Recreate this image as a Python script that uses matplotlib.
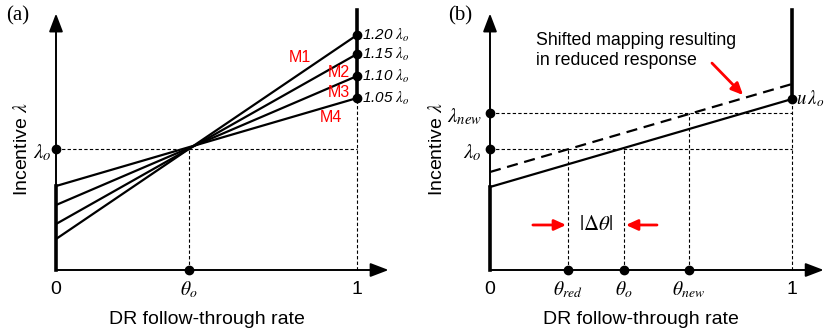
import matplotlib
matplotlib.use("Agg")
import matplotlib.pyplot as plt

plt.rcParams['font.family'] = ['Liberation Sans', 'DejaVu Sans']
plt.rcParams['mathtext.fontset'] = 'stix'

# ---- panel (a): four mappings through (theta_o, lambda_o) ----
theta_o_a = 0.442
lam_o = 1.0
map_names = ['M1', 'M2', 'M3', 'M4']
map_right = [1.942, 1.785, 1.603, 1.421]       # value at theta = 1
map_left = [0.256, 0.380, 0.537, 0.694]        # value at theta = 0
right_labels = ['1.20', '1.15', '1.10', '1.05']

# ---- panel (b): original and shifted mapping ----
solid_ends = [0.686, 1.413]
dashed_ends = [0.81, 1.537]
theta_ticks_b = [0.258, 0.444, 0.659]
theta_names_b = [r'$\theta_{red}$', r'$\theta_o$', r'$\theta_{new}$']
lam_new = 1.30

W, H = 826, 333
PX_Y0, PX_PER_Y = 270, 121
XLIM, YLIM = (-0.15, 1.15), (-0.3, 2.2)

fig = plt.figure(figsize=(W / 100, H / 100), dpi=100)


def make_ax(x0, x1):
    sx = x1 - x0
    left = x0 + XLIM[0] * sx
    bottom = (H - PX_Y0) + YLIM[0] * PX_PER_Y
    ax = fig.add_axes([left / W, bottom / H, (XLIM[1] - XLIM[0]) * sx / W,
                       (YLIM[1] - YLIM[0]) * PX_PER_Y / H])
    ax.set_xlim(*XLIM); ax.set_ylim(*YLIM); ax.axis('off')
    return ax, sx


def axes_arrows(ax):
    kw = dict(arrowstyle='-|>,head_length=1.1,head_width=0.42', lw=1.4,
              color='k', shrinkA=0, shrinkB=0)
    ax.annotate('', xy=(1.105, 0), xytext=(0, 0), arrowprops=kw,
                annotation_clip=False)
    ax.annotate('', xy=(0, 2.12), xytext=(0, 0), arrowprops=kw,
                annotation_clip=False)


thin = dict(color='k', lw=0.8, ls=(0, (3, 2)))
dot = dict(marker='o', ms=6, color='k', ls='none', clip_on=False, zorder=5)
fs = 14

# ------------------------- (a) -------------------------
ax, sx = make_ax(56, 357)
axes_arrows(ax)
ax.plot([0, theta_o_a], [lam_o, lam_o], **thin)
ax.plot([theta_o_a, theta_o_a], [0, lam_o], **thin)
ax.plot([theta_o_a, 1], [lam_o, lam_o], **thin)
ax.plot([1, 1], [0, min(map_right)], **thin)
for yl, yr in zip(map_left, map_right):
    ax.plot([0, 1], [yl, yr], color='k', lw=1.6, solid_capstyle='butt')
ax.plot([0, 0], [0, max(map_left)], color='k', lw=2.6)
ax.plot([1, 1], [min(map_right), 2.15], color='k', lw=2.6, clip_on=False)
ax.plot([1] * len(map_right), map_right, **dot)
ax.plot([0, theta_o_a], [lam_o, 0], **dot)
for yr, lab in zip(map_right, right_labels):
    ax.text(1.015, yr, f'{lab}' + r' $\lambda_o$', fontsize=11,
            style='italic', ha='left', va='center')
m_pos = [(0.811, 1.76), (0.940, 1.636), (0.940, 1.463), (0.914, 1.264)]
for name, (mx, my) in zip(map_names, m_pos):
    ax.text(mx, my, name, color='red', fontsize=11.5, ha='center', va='center')
ax.text(-0.015, 0.97, r'$\lambda_o$', fontsize=15, ha='right', va='center')
for xv, lab in zip([0, theta_o_a, 1], ['0', r'$\theta_o$', '1']):
    ax.text(xv, -0.165, lab, fontsize=fs, ha='center', va='center')
ax.text(0.5, -0.41, 'DR follow-through rate', fontsize=fs, ha='center',
        va='center')
ax.text(-0.113, 1.0, r'Incentive $\lambda$', fontsize=fs, rotation=90,
        ha='center', va='center')
ax.text(-0.127, 2.10, '(a)', fontsize=15, ha='center', va='center',
        fontname='Liberation Serif')

# ------------------------- (b) -------------------------
ax, sx = make_ax(490, 792)
axes_arrows(ax)
t_red, t_o, t_new = theta_ticks_b
ax.plot([0, 1], [lam_o, lam_o], **thin)
ax.plot([0, 1], [lam_new, lam_new], **thin)
ax.plot([t_red, t_red], [0, lam_o], **thin)
ax.plot([t_o, t_o], [0, lam_o], **thin)
ax.plot([t_new, t_new], [0, lam_new], **thin)
ax.plot([1, 1], [0, solid_ends[1]], **thin)
ax.plot([0, 1], solid_ends, color='k', lw=1.6)
ax.plot([0, 1], dashed_ends, color='k', lw=1.6, ls=(0, (5, 3)))
ax.plot([0, 0], [0, solid_ends[0]], color='k', lw=2.6)
ax.plot([1, 1], [solid_ends[1], 2.15], color='k', lw=2.6, clip_on=False)
ax.plot([0, 0, 1], [lam_o, lam_new, solid_ends[1]], **dot)
ax.plot(theta_ticks_b, [0] * 3, **dot)
ax.text(-0.026, lam_new - 0.03, r'$\lambda_{new}$', fontsize=15, ha='right',
        va='center')
ax.text(-0.026, lam_o - 0.03, r'$\lambda_o$', fontsize=15, ha='right',
        va='center')
ax.text(1.014, solid_ends[1], r'$u\,\lambda_o$', fontsize=13.5, ha='left',
        va='center')
for xv, lab in zip([0] + theta_ticks_b + [1], ['0'] + theta_names_b + ['1']):
    ax.text(xv, -0.165, lab, fontsize=fs, ha='center', va='center')
ax.text(0.5, -0.41, 'DR follow-through rate', fontsize=fs, ha='center',
        va='center')
ax.text(-0.175, 1.0, r'Incentive $\lambda$', fontsize=fs, rotation=90,
        ha='center', va='center')
ax.text(-0.099, 2.10, '(b)', fontsize=15, ha='center', va='center',
        fontname='Liberation Serif')
ax.text(0.152, 1.815, 'Shifted mapping resulting\nin reduced response',
        fontsize=12.8, ha='left', va='center', linespacing=1.2)
red_kw = dict(arrowstyle='-|>,head_length=0.7,head_width=0.32', lw=2,
              color='red', shrinkA=0, shrinkB=0)
ax.annotate('', xy=(0.838, 1.446), xytext=(0.735, 1.71), arrowprops=red_kw)
ax.annotate('', xy=(t_red - 0.006, 0.372), xytext=(0.142, 0.372),
            arrowprops=red_kw)
ax.annotate('', xy=(t_o + 0.006, 0.372), xytext=(0.553, 0.372),
            arrowprops=red_kw)
ax.text((t_red + t_o) / 2, 0.372, r'$|\Delta\theta|$', fontsize=15,
        ha='center', va='center')

fig.savefig('out.png', dpi=100)
